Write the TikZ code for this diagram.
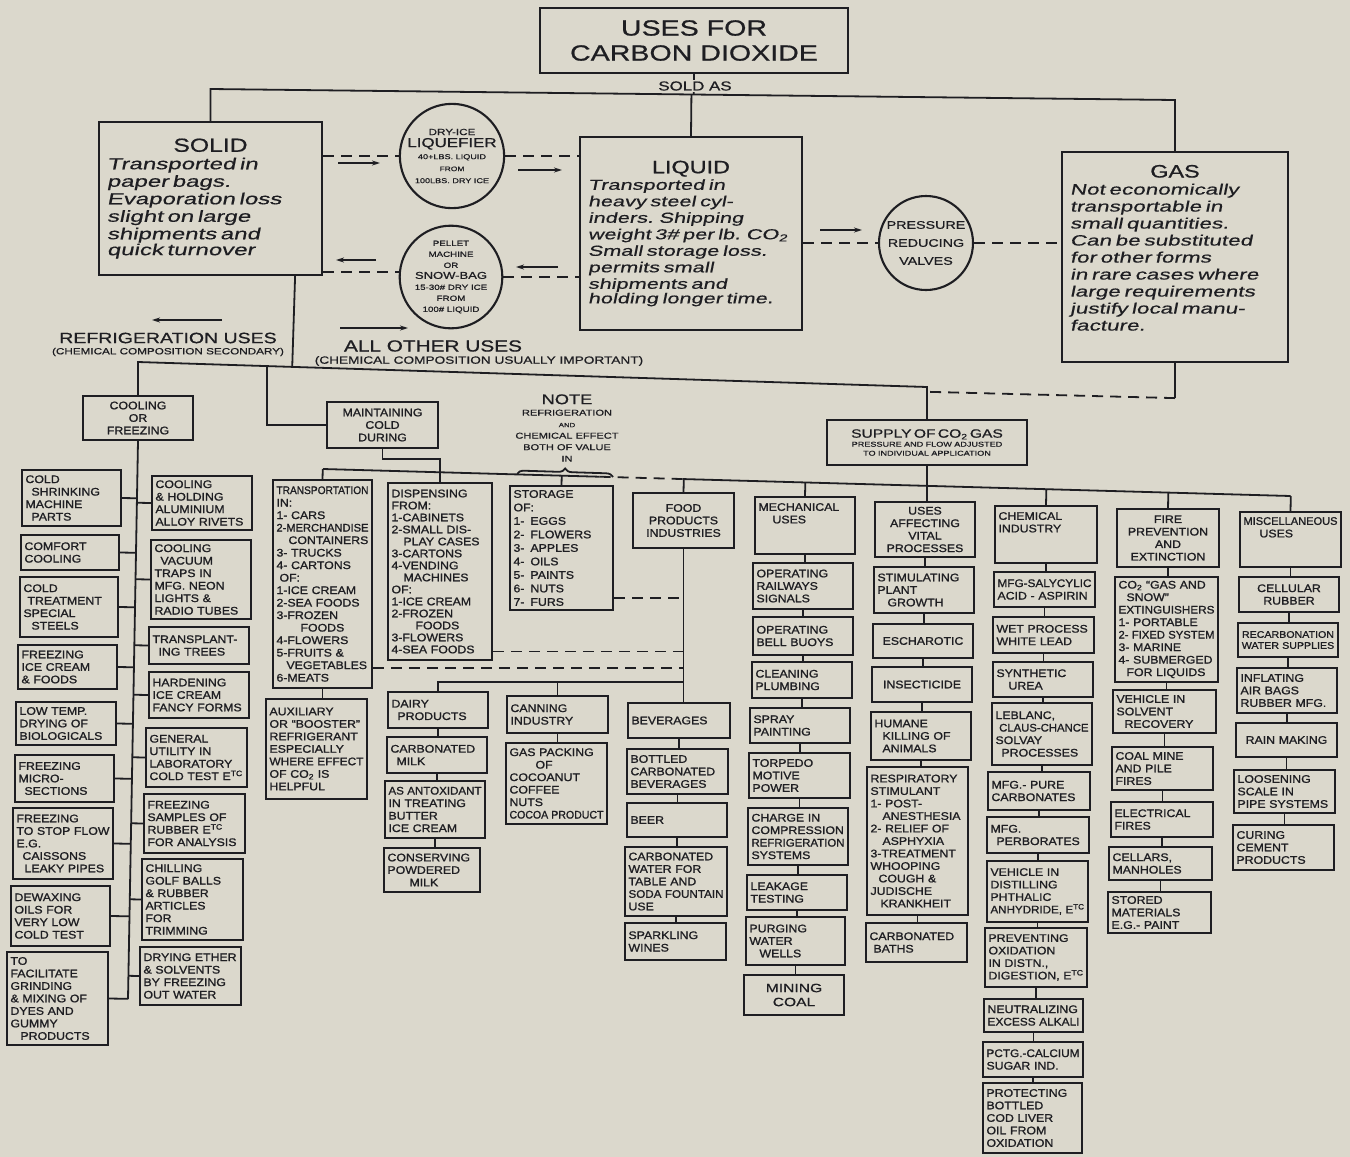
\documentclass[tikz,border=0pt]{standalone}
\usepackage{fontspec}
\setmainfont{Liberation Sans}
\newfontfamily\letfont{Liberation Sans}[FakeStretch=1.12,FakeBold=1.2]
\newfontfamily\widefont{Liberation Sans}[FakeStretch=1.3,FakeBold=0.8]
\newfontfamily\handfont{Liberation Sans}[FakeStretch=1.5,FakeSlant=0.2,FakeBold=0.4]
\usetikzlibrary{arrows.meta,calc,decorations.pathreplacing}
\definecolor{bg}{RGB}{219,216,204}
\definecolor{ink}{RGB}{30,30,34}
\newcommand{\FS}[2]{\fontsize{#1}{#2}\selectfont}
\newsavebox{\fitbx}
\newcommand{\F}[1]{\sbox{\fitbx}{#1}\ifdim\wd\fitbx>\hsize\resizebox{\hsize}{\height}{\usebox{\fitbx}}\else\usebox{\fitbx}\fi}
\newcommand{\BX}[7][]{%
  \pgfmathsetmacro{\bxw}{#5-#3}%
  \pgfmathsetmacro{\bxh}{#6-#4}%
  \pgfmathsetmacro{\bxtw}{#5-#3-7}%
  \pgfmathsetmacro{\bxcx}{(#3+#5)/2}%
  \pgfmathsetmacro{\bxcy}{(#4+#6)/2}%
  \node[bx,minimum width=\bxw pt,minimum height=\bxh pt,text width=\bxtw pt,#1] (#2) at (\bxcx,\bxcy) {#7};}
\tikzset{
 bx/.style={draw=ink, line width=2pt, inner sep=3.5pt, align=left, text=ink, font=\letfont\FS{11}{12.5}},
 bigbx/.style={bx, line width=2.2pt, inner sep=8pt},
 cn/.style={draw=ink, line width=1.8pt},
 dsh/.style={cn, dash pattern=on 11pt off 7pt},
 arr/.style={cn, -{Stealth[length=8pt,width=5pt]}},
 circ/.style={circle, draw=ink, line width=2.1pt, inner sep=0pt, align=center, text=ink},
 lbl/.style={text=ink, inner sep=0pt, align=center},
}
\begin{document}
\begin{tikzpicture}[x=1pt,y=-1pt]
\fill[bg] (0,0) rectangle (1350,1157);
\useasboundingbox (0,0) rectangle (1350,1157);

% ---------- top level ----------
\node[bx, align=center, minimum width=308pt, minimum height=65pt, inner sep=2pt, font=\widefont\FS{22}{25}] (title) at (694,40.5) {USES FOR\\CARBON DIOXIDE};

\node[bigbx, minimum width=223pt, minimum height=153pt, text width=207pt] (solid) at (210.5,198.5)
 {\makebox[\hsize]{\widefont\FS{19}{21}SOLID}\\
  \handfont\FS{16}{17.5}Transported in\\paper bags.\\Evaporation loss\\slight on large\\shipments and\\quick turnover};

\node[bigbx, minimum width=222pt, minimum height=193pt, text width=206pt] (liquid) at (691,233.5)
 {\makebox[\hsize]{\widefont\FS{18}{20}LIQUID}\\
  \handfont\FS{14.5}{16.5}Transported in\\heavy steel cyl-\\inders. Shipping\\weight 3\# per lb. CO\textsubscript{2}\\Small storage loss.\\permits small\\shipments and\\holding longer time.};

\node[bigbx, minimum width=226pt, minimum height=210pt, text width=210pt] (gas) at (1175,257)
 {\makebox[\hsize]{\widefont\FS{18}{20}GAS}\\
  \handfont\FS{15}{17}Not economically\\transportable in\\small quantities.\\Can be substituted\\for other forms\\in rare cases where\\large requirements\\justify local manu-\\facture.\\[6pt]\mbox{}};

\node[circ, minimum size=102pt, font=\widefont\FS{7}{12}] (c1) at (452,156)
 {{\FS{9}{10}DRY-ICE}\\{\FS{13}{14}LIQUEFIER}\\40+LBS. LIQUID\\{\FS{6.5}{9}FROM}\\100LBS. DRY ICE};
\node[circ, minimum size=100pt, font=\widefont\FS{7.5}{11}] (c2) at (451,277)
 {PELLET\\MACHINE\\OR\\{\FS{10}{11}SNOW-BAG}\\15-30\# DRY ICE\\FROM\\100\# LIQUID};
\node[circ, minimum size=94pt, font=\widefont\FS{11}{18}] (c3) at (926,243)
 {PRESSURE\\REDUCING\\VALVES};

% labels
\node[lbl, font=\widefont\FS{15}{15}] (rlab) at (168,338) {REFRIGERATION USES};
\node[lbl, font=\widefont\FS{9}{9}] (rlab2) at (168,352) {(CHEMICAL COMPOSITION SECONDARY)};
\node[lbl, font=\widefont\FS{16}{16}] (alab) at (433,346) {ALL OTHER USES};
\node[lbl, font=\widefont\FS{10.5}{10.5}] (alab2) at (479,361) {(CHEMICAL COMPOSITION USUALLY IMPORTANT)};

\node[lbl, font=\widefont\FS{8.5}{11.5}] (note) at (567,428)
 {{\FS{14}{14}NOTE}\\REFRIGERATION\\{\FS{6}{9}AND}\\CHEMICAL EFFECT\\BOTH OF VALUE\\IN};

% ---------- second level ----------
\BX[align=center]{cof}{83}{396}{193}{440}{COOLING\\OR\\FREEZING}
\BX[align=center]{mcd}{327}{402}{438}{448}{MAINTAINING\\COLD\\DURING}
\BX[align=center, font=\widefont\FS{7}{9}, inner sep=2pt, text width=196pt]{sup}{827}{420}{1027}{465}
 {{\FS{12}{13}SUPPLY OF CO\textsubscript{2} GAS}\\PRESSURE AND FLOW ADJUSTED\\TO INDIVIDUAL APPLICATION}

% ---------- cooling or freezing ----------
\BX{cshr}{22}{470}{121}{526}{COLD\\\hspace*{6pt}SHRINKING\\MACHINE\\\hspace*{6pt}PARTS}
\BX{ccom}{21}{535}{119}{570}{COMFORT\\COOLING}
\BX{ctre}{20}{577}{118}{637}{COLD\\\hspace*{4pt}TREATMENT\\SPECIAL\\\hspace*{8pt}STEELS}
\BX{fice}{18}{645}{117}{689}{FREEZING\\ICE CREAM\\\& FOODS}
\BX{ltmp}{16}{702}{116}{745}{LOW TEMP.\\DRYING OF\\\F{BIOLOGICALS}}
\BX{fmic}{15}{755}{114}{802}{FREEZING\\MICRO-\\\hspace*{6pt}SECTIONS}
\BX{fstp}{13}{808}{113}{879}{FREEZING\\\F{TO STOP FLOW}\\E.G.\\\hspace*{6pt}CAISSONS\\\F{\hspace*{8pt}LEAKY PIPES}}
\BX{dwax}{11}{886}{110}{946}{DEWAXING\\OILS FOR\\VERY LOW\\COLD TEST}
\BX{tfac}{7}{952}{108}{1045}{TO\\FACILITATE\\GRINDING\\\& MIXING OF\\DYES AND\\GUMMY\\\hspace*{10pt}PRODUCTS}
\BX{chol}{152}{476}{252}{530}{COOLING\\\& HOLDING\\ALUMINIUM\\\F{ALLOY RIVETS}}
\BX{cvac}{151}{540}{251}{619}{COOLING\\\hspace*{6pt}VACUUM\\TRAPS IN\\MFG. NEON\\LIGHTS \&\\\F{RADIO TUBES}}
\BX{ttre}{149}{627}{249}{664}{\F{TRANSPLANT-}\\\hspace*{6pt}ING TREES}
\BX{hice}{149}{672}{249}{718}{HARDENING\\ICE CREAM\\\F{FANCY FORMS}}
\BX{gutl}{146}{728}{247}{787}{GENERAL\\UTILITY IN\\LABORATORY\\\F{COLD TEST E\textsuperscript{TC}}}
\BX{fsam}{144}{794}{245}{853}{FREEZING\\SAMPLES OF\\RUBBER E\textsuperscript{TC}\\\F{FOR ANALYSIS}}
\BX{cgol}{142}{859}{243}{940}{CHILLING\\GOLF BALLS\\\& RUBBER\\ARTICLES\\FOR\\TRIMMING}
\BX{dret}{140}{947}{241}{1005}{\F{DRYING ETHER}\\\& SOLVENTS\\BY FREEZING\\OUT WATER}

% ---------- maintaining cold ----------
\BX{tran}{273}{480}{372}{688}{\F{TRANSPORTATION}\\IN:\\1- CARS\\\F{2-MERCHANDISE}\\\F{\hspace*{12pt}CONTAINERS}\\3- TRUCKS\\4- CARTONS\\\hspace*{3pt}OF:\\1-ICE CREAM\\\F{2-SEA FOODS}\\3-FROZEN\\\hspace*{24pt}FOODS\\4-FLOWERS\\5-FRUITS \&\\\F{\hspace*{10pt}VEGETABLES}\\6-MEATS}
\BX{auxr}{266}{699}{367}{799}{AUXILIARY\\\F{OR “BOOSTER”}\\\F{REFRIGERANT}\\ESPECIALLY\\\F{WHERE EFFECT}\\OF CO\textsubscript{2} IS\\HELPFUL}
\BX[font=\letfont\FS{11}{12}]{disp}{388}{483}{492}{660}{DISPENSING\\FROM:\\1-CABINETS\\\F{2-SMALL DIS-}\\\F{\hspace*{12pt}PLAY CASES}\\3-CARTONS\\4-VENDING\\\hspace*{12pt}MACHINES\\OF:\\\F{1-ICE CREAM}\\2-FROZEN\\\hspace*{24pt}FOODS\\3-FLOWERS\\\F{4-SEA FOODS}}
\BX[font=\letfont\FS{11}{13.5}]{stor}{510}{486}{613}{610}{STORAGE\\OF:\\1-\hspace{6pt}EGGS\\2-\hspace{6pt}FLOWERS\\3-\hspace{6pt}APPLES\\4-\hspace{6pt}OILS\\5-\hspace{6pt}PAINTS\\6-\hspace{6pt}NUTS\\7-\hspace{6pt}FURS}

% ---------- food products ----------
\BX[align=center]{fpi}{633}{493}{734}{548}{FOOD\\PRODUCTS\\INDUSTRIES}
\BX{dair}{388}{692}{488}{728}{DAIRY\\\hspace*{6pt}PRODUCTS}
\BX{cmlk}{387}{737}{487}{773}{\F{CARBONATED}\\\hspace*{6pt}MILK}
\BX{anto}{385}{781}{485}{838}{\F{AS ANTOXIDANT}\\\F{IN TREATING}\\BUTTER\\ICE CREAM}
\BX{cpow}{384}{848}{480}{892}{\F{CONSERVING}\\POWDERED\\\hspace*{22pt}MILK}
\BX{cann}{507}{696}{608}{733}{CANNING\\INDUSTRY}
\BX{gpak}{506}{743}{607}{824}{\F{GAS PACKING}\\\hspace*{26pt}OF\\COCOANUT\\COFFEE\\NUTS\\\F{COCOA PRODUCT}}
\BX{bevg}{628}{703}{730}{738}{BEVERAGES}
\BX{bott}{627}{749}{728}{794}{BOTTLED\\\F{CARBONATED}\\BEVERAGES}
\BX{beer}{627}{803}{727}{837}{BEER}
\BX{cwat}{625}{847}{727}{916}{\F{CARBONATED}\\WATER FOR\\TABLE AND\\\F{SODA FOUNTAIN}\\USE}
\BX{spwn}{625}{923}{726}{960}{SPARKLING\\WINES}

% ---------- mechanical ----------
\BX{mech}{755}{497}{855}{554}{\F{MECHANICAL}\\\hspace*{14pt}USES\\[12pt]\mbox{}}
\BX{orai}{753}{563}{853}{609}{OPERATING\\RAILWAYS\\SIGNALS}
\BX{obel}{753}{617}{853}{655}{OPERATING\\\F{BELL BUOYS}}
\BX{clea}{752}{662}{852}{698}{CLEANING\\PLUMBING}
\BX{spra}{750}{708}{850}{743}{SPRAY\\PAINTING}
\BX{torp}{749}{753}{850}{798}{TORPEDO\\MOTIVE\\POWER}
\BX{chrg}{748}{808}{848}{865}{CHARGE IN\\\F{COMPRESSION}\\\F{REFRIGERATION}\\SYSTEMS}
\BX{leak}{747}{875}{847}{910}{LEAKAGE\\TESTING}
\BX{purg}{746}{917}{845}{965}{PURGING\\WATER\\\hspace*{10pt}WELLS}
\BX[align=center, font=\widefont\FS{12}{14}]{mine}{744}{975}{844}{1015}{MINING\\COAL}

% ---------- vital processes ----------
\BX[align=center]{vita}{875}{502}{975}{557}{USES\\AFFECTING\\VITAL\\PROCESSES}
\BX{plnt}{874}{567}{974}{613}{\F{STIMULATING}\\PLANT\\\hspace*{10pt}GROWTH}
\BX[align=center]{esch}{873}{624}{973}{658}{ESCHAROTIC}
\BX[align=center]{inse}{872}{667}{972}{702}{INSECTICIDE}
\BX{huma}{871}{712}{971}{760}{HUMANE\\\hspace*{8pt}KILLING OF\\\hspace*{8pt}ANIMALS}
\BX{resp}{867}{767}{968}{915}{\F{RESPIRATORY}\\STIMULANT\\1- POST-\\\F{\hspace*{12pt}ANESTHESIA}\\\F{2- RELIEF OF}\\\hspace*{12pt}ASPHYXIA\\\F{3-TREATMENT}\\WHOOPING\\\hspace*{8pt}COUGH \&\\JUDISCHE\\\F{\hspace*{10pt}KRANKHEIT}}
\BX{cbat}{866}{923}{967}{962}{\F{CARBONATED}\\\hspace*{4pt}BATHS}

% ---------- chemical ----------
\BX{chem}{995}{506}{1097}{563}{CHEMICAL\\INDUSTRY\\[12pt]\mbox{}}
\BX{salc}{994}{572}{1095}{607}{\F{MFG-SALYCYLIC}\\\F{ACID - ASPIRIN}}
\BX{wetp}{993}{617}{1094}{653}{\F{WET PROCESS}\\WHITE LEAD}
\BX{syn}{993}{662}{1093}{697}{SYNTHETIC\\\hspace*{12pt}UREA}
\BX{lebl}{992}{703}{1092}{765}{LEBLANC,\\\F{\hspace*{4pt}CLAUS-CHANCE}\\SOLVAY\\\F{\hspace*{6pt}PROCESSES}}
\BX{pure}{988}{772}{1090}{810}{MFG.- PURE\\\F{CARBONATES}}
\BX{perb}{987}{817}{1089}{853}{MFG.\\\F{\hspace*{6pt}PERBORATES}}
\BX{vdis}{987}{861}{1088}{922}{VEHICLE IN\\DISTILLING\\PHTHALIC\\\F{ANHYDRIDE, E\textsuperscript{TC}}}
\BX{prev}{985}{928}{1087}{987}{\F{PREVENTING}\\OXIDATION\\IN DISTN.,\\\F{DIGESTION, E\textsuperscript{TC}}}
\BX{neut}{984}{999}{1083}{1032}{\F{NEUTRALIZING}\\\F{EXCESS ALKALI}}
\BX{pctg}{983}{1042}{1083}{1077}{\F{PCTG.-CALCIUM}\\SUGAR IND.}
\BX{codl}{983}{1083}{1082}{1153}{\F{PROTECTING}\\BOTTLED\\COD LIVER\\OIL FROM\\OXIDATION}

% ---------- fire ----------
\BX[align=center]{fire}{1117}{509}{1219}{567}{FIRE\\PREVENTION\\AND\\EXTINCTION}
\BX{extg}{1115}{577}{1218}{682}{\F{CO\textsubscript{2} “GAS AND}\\\hspace*{8pt}SNOW”\\\F{EXTINGUISHERS}\\1- PORTABLE\\\F{2- FIXED SYSTEM}\\3- MARINE\\\F{4- SUBMERGED}\\\F{\hspace*{8pt}FOR LIQUIDS}}
\BX{vsol}{1113}{690}{1216}{733}{VEHICLE IN\\SOLVENT\\\hspace*{8pt}RECOVERY}
\BX{cmin}{1112}{747}{1213}{790}{COAL MINE\\AND PILE\\FIRES}
\BX{elec}{1111}{802}{1213}{837}{ELECTRICAL\\FIRES}
\BX{cell}{1109}{847}{1212}{880}{CELLARS,\\MANHOLES}
\BX{stmt}{1108}{892}{1211}{933}{STORED\\MATERIALS\\E.G.- PAINT}

% ---------- miscellaneous ----------
\BX{misc}{1240}{512}{1341}{567}{\F{MISCELLANEOUS}\\\hspace*{16pt}USES\\[12pt]\mbox{}}
\BX[align=center]{crub}{1239}{577}{1339}{612}{CELLULAR\\RUBBER}
\BX[align=center, font=\letfont\FS{9.5}{11}]{reca}{1238}{623}{1338}{657}{\F{RECARBONATION}\\\F{WATER SUPPLIES}}
\BX{infl}{1237}{668}{1337}{713}{INFLATING\\AIR BAGS\\\F{RUBBER MFG.}}
\BX[align=center]{rain}{1236}{723}{1337}{757}{\F{RAIN MAKING}}
\BX{loos}{1234}{770}{1335}{813}{LOOSENING\\SCALE IN\\\F{PIPE SYSTEMS}}
\BX{curi}{1233}{825}{1334}{870}{CURING\\CEMENT\\PRODUCTS}

% ================= connectors =================
% top line
\coordinate (tlL) at (210.5,89);
\coordinate (tlR) at (1175,100);
\draw[cn] (solid.north) -- (tlL) -- (tlR) -- (gas.north);
\draw[cn] (title.south) -- ($(tlL)!(title.south)!(tlR)$);
\draw[cn] ($(tlL)!(liquid.north)!(tlR)$) -- (liquid.north);

% dashed transfers
\draw[dsh] (c1.west -| solid.east) -- (c1.west);
\draw[dsh] (c1.east) -- (c1.east -| liquid.west);
\coordinate (c2l) at ([yshift=5pt]c2.west);
\draw[dsh] (c2l -| solid.east) -- (c2l);
\draw[dsh] (c2.east) -- (c2.east -| liquid.west);
\draw[dsh] (c3.west -| liquid.east) -- (c3.west);
\draw[dsh] (c3.east) -- (c3.east -| gas.west);

% free arrows
\coordinate (a1s) at (338,163); \coordinate (a1e) at (380,163);
\coordinate (a2s) at (518,170); \coordinate (a2e) at (562,170);
\coordinate (a3s) at (376,260); \coordinate (a3e) at (336,260);
\coordinate (a4s) at (558,267); \coordinate (a4e) at (516,267);
\coordinate (a5s) at (820,230); \coordinate (a5e) at (862,230);
\coordinate (a6s) at (222,320); \coordinate (a6e) at (152,320);
\coordinate (a7s) at (340,328); \coordinate (a7e) at (408,328);
\foreach \s/\e in {a1s/a1e,a2s/a2e,a3s/a3e,a4s/a4e,a5s/a5e,a6s/a6e,a7s/a7e}
  \draw[arr] (\s) -- (\e);

% upper bus
\coordinate (ubL) at (138,362);
\coordinate (ubR) at (927,387);
\draw[cn] (cof.north) -- (ubL) -- (ubR) -- (sup.north);
\coordinate (sdn) at ([xshift=-28pt]solid.south east);
\draw[cn] (sdn) -- ($(ubL)!(sdn)!(ubR)$);
\coordinate (mbr) at ($(ubL)!0.163!(ubR)$);
\draw[cn] (mbr) |- (mcd.west);
\coordinate (gd) at ([yshift=-35pt]gas.south);
\coordinate (gj) at ($(ubR)!0.15!(sup.north)$);
\draw[cn] (gas.south) -- (gd);
\draw[dsh] (gd) -- (gj);

% cooling trunk
\coordinate (tkB) at (128,999);
\draw[cn] (cof.south) -- (tkB);
\foreach \b in {cshr,ccom,ctre,fice,ltmp,fmic,fstp,dwax,tfac}
  \draw[cn] (\b.east) -- ($(cof.south)!(\b.east)!(tkB)$);
\foreach \b in {chol,cvac,ttre,hice,gutl,fsam,cgol,dret}
  \draw[cn] (\b.west) -- ($(cof.south)!(\b.west)!(tkB)$);

% main lower bus
\coordinate (busA) at (323,469);
\coordinate (busB) at (1290.5,496);
\coordinate (bd1) at ($(busA)!0.286!(busB)$);
\coordinate (bd2) at ($(busA)!0.372!(busB)$);
\draw[cn] (busA) -- (bd1);
\draw[dsh] (bd1) -- (bd2);
\draw[cn] (bd2) -- (busB);
\foreach \b in {tran,stor,fpi,mech,chem,fire,misc}
  \draw[cn] (\b.north) -- ($(busA)!(\b.north)!(busB)$);
\draw[cn] (mcd.south) -- ++(0,10) -| (disp.north);
\draw[cn] (sup.south) -- (sup.south |- vita.north);
\coordinate (brL) at (517,474);
\coordinate (brR) at (613,477);
\draw[cn, decorate, decoration={brace, amplitude=7pt}] (brL) -- (brR);

% food
\draw[cn] (fpi.south) -- (fpi.south |- bevg.north);
\coordinate (fbus) at ([yshift=9pt]dair.north);
\draw[cn] (dair.north) -- (fbus) -- (fbus -| fpi.south);
\draw[cn] (cann.north) -- (cann.north |- fbus);
\coordinate (sdash) at ([yshift=-50pt]stor.east);
\coordinate (ddash) at ([yshift=-80pt]disp.east);
\coordinate (tdash) at ([yshift=-84pt]tran.east);
\draw[dsh] (sdash) -- (sdash -| fpi.south);
\draw[dsh] (ddash) -- (ddash -| fpi.south);
\draw[dsh] (tdash) -- (tdash -| fpi.south);

% vertical chains
\foreach \a/\b in {tran/auxr, dair/cmlk, cmlk/anto, anto/cpow, cann/gpak,
  bevg/bott, bott/beer, beer/cwat, cwat/spwn,
  mech/orai, orai/obel, obel/clea, clea/spra, spra/torp, torp/chrg, chrg/leak, leak/purg, purg/mine,
  vita/plnt, plnt/esch, esch/inse, inse/huma, huma/resp, resp/cbat,
  chem/salc, salc/wetp, wetp/syn, syn/lebl, lebl/pure, pure/perb, perb/vdis, vdis/prev, prev/neut, neut/pctg, pctg/codl,
  fire/extg, extg/vsol, vsol/cmin, cmin/elec, elec/cell, cell/stmt,
  misc/crub, crub/reca, reca/infl, infl/rain, rain/loos, loos/curi}
  \draw[cn] (\a.south) -- (\a.south |- \b.north);

\node[lbl, fill=bg, inner sep=1.5pt, font=\widefont\FS{13}{13}] (sold) at (695,86) {SOLD AS};
\end{tikzpicture}
\end{document}
